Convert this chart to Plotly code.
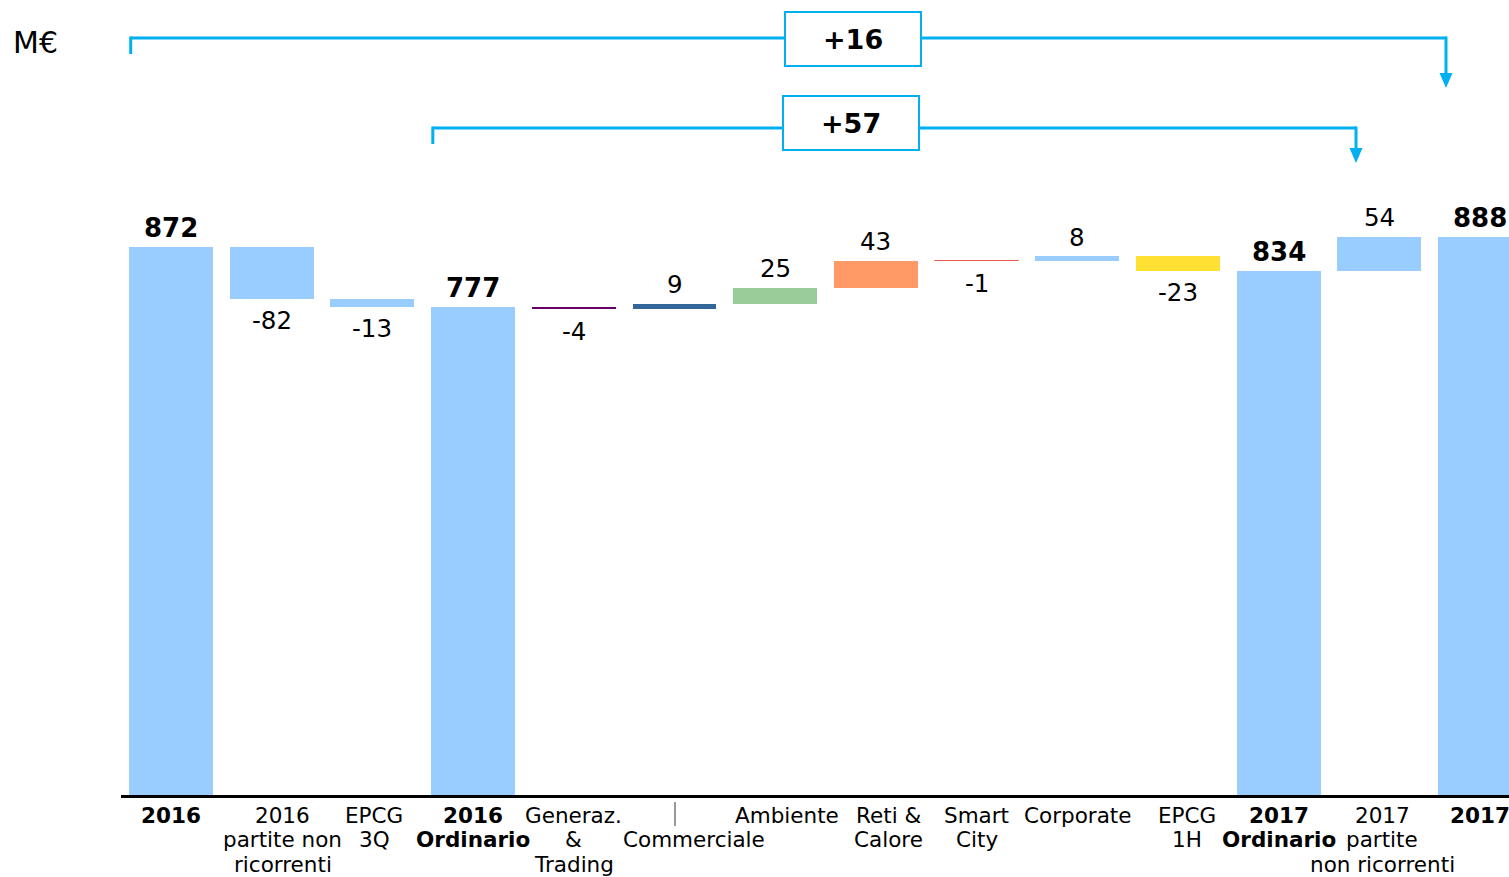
import plotly.graph_objects as go

# ---------------- data ----------------
categories = [
    "2016", "2016\npartite non\nricorrenti", "EPCG\n3Q", "2016\nOrdinario",
    "Generaz.\n&\nTrading", "\nCommerciale", "Ambiente", "Reti &\nCalore",
    "Smart\nCity", "Corporate", "EPCG\n1H", "2017\nOrdinario",
    "2017\npartite\nnon ricorrenti", "2017",
]
values = [872, -82, -13, 777, -4, 9, 25, 43, -1, 8, -23, 834, 54, 888]
is_total = [True, False, False, True, False, False, False, False,
            False, False, False, True, False, True]
bar_colors = ["#99CCFF", "#99CCFF", "#99CCFF", "#99CCFF", "#660066", "#336699",
              "#99CC99", "#FF9966", "#E65A50", "#99CCFF", "#FFE033", "#99CCFF",
              "#99CCFF", "#99CCFF"]
label_xshift = [0, 11, 2, 0, 0, 19, 12, 13, 0, 0, 9, 0, 3, 0]
unit_label = "M€"

# ---------------- geometry helpers ----------------
W, H = 1509, 877
PLOT_BOTTOM = 795
PX_PER_UNIT = 0.6284
X0, SLOT = 171, 100.7
L_MARGIN = 121


def px2x(px):
    return (px - X0) / SLOT


def py2y(py):
    return (PLOT_BOTTOM - py) / PX_PER_UNIT


FONT = "Verdana, DejaVu Sans, sans-serif"
BLUE = "#00B0F0"

# waterfall bases
bases, heights = [], []
running = 0
for v, t in zip(values, is_total):
    if t:
        bases.append(0)
        heights.append(v)
        running = v
    else:
        bases.append(running)
        heights.append(v)
        running += v

xs = list(range(len(values)))
fig = go.Figure()
fig.add_trace(go.Bar(
    x=xs, y=heights, base=bases, width=0.834,
    marker=dict(color=bar_colors, line=dict(color=bar_colors,
                width=[1 if abs(v) < 2 else 0 for v in values])),
    hoverinfo="skip", showlegend=False,
))

annotations = []
# value labels
for i, (v, b, t) in enumerate(zip(values, bases, is_total)):
    if t or v >= 0:
        top = b + v
        annotations.append(dict(x=i, y=top, yshift=19, text=str(v), showarrow=False,
                                yanchor="middle", xanchor="center",
                                font=dict(family=FONT, size=26 if t else 24.5, color="#000000",
                                          weight="bold" if t else "normal")))
    else:
        bottom = b + v
        annotations.append(dict(x=i, y=bottom, yshift=-22, text=str(v), showarrow=False,
                                yanchor="middle", xanchor="center",
                                font=dict(family=FONT, size=24.5, color="#000000")))

# category labels (one annotation per line)
for i, (c, t) in enumerate(zip(categories, is_total)):
    for k, line in enumerate(c.split("\n")):
        if not line:
            continue
        annotations.append(dict(x=i, y=0, xshift=label_xshift[i], yshift=-(20 + 24.5 * k),
                                text=line, showarrow=False, yanchor="middle", xanchor="center",
                                font=dict(family=FONT, size=21.5, color="#000000",
                                          weight="bold" if t else "normal")))

annotations.append(dict(xref="paper", yref="paper", x=(11 - L_MARGIN) / (W - L_MARGIN),
                        y=(PLOT_BOTTOM - 43) / PLOT_BOTTOM, text=unit_label, showarrow=False,
                        xanchor="left", yanchor="middle",
                        font=dict(family=FONT, size=30, color="#000000")))

shapes = []
# brackets: (start bar index, end bar index, line px y, arrow px x, box px x0, box px y0, tip px y)
brackets = [
    (0, 13, 38, 1446, 785, 12, 88),
    (3, 11, 128, 1356, 783, 96, 163),
]
for s, e, ly, ax, bx0, by0, tip in brackets:
    xl = s - 0.4
    xr = px2x(ax)
    shapes.append(dict(type="line", x0=xl, x1=xr, y0=py2y(ly), y1=py2y(ly),
                       line=dict(color=BLUE, width=3), layer="above"))
    shapes.append(dict(type="line", x0=xl, x1=xl, y0=py2y(ly - 1.5), y1=py2y(ly + 16),
                       line=dict(color=BLUE, width=3), layer="above"))
    shapes.append(dict(type="line", x0=xr, x1=xr, y0=py2y(ly - 1.5), y1=py2y(tip - 14),
                       line=dict(color=BLUE, width=3), layer="above"))
    path = (f"M {px2x(ax - 6.5)},{py2y(tip - 15)} L {px2x(ax + 6.5)},{py2y(tip - 15)} "
            f"L {xr},{py2y(tip)} Z")
    shapes.append(dict(type="path", path=path, fillcolor=BLUE, line=dict(color=BLUE, width=0),
                       layer="above"))
    shapes.append(dict(type="rect", x0=px2x(bx0), x1=px2x(bx0 + 136), y0=py2y(by0 + 54),
                       y1=py2y(by0), fillcolor="white", line=dict(color=BLUE, width=2),
                       layer="above"))
    diff = values[e] - values[s]
    annotations.append(dict(x=px2x(bx0 + 68), y=py2y(by0 + 27), text=f"{diff:+d}",
                            showarrow=False, xanchor="center", yanchor="middle",
                            font=dict(family=FONT, size=27, color="#000000", weight="bold")))

# small separator mark in the label area
shapes.append(dict(type="line", xref="x", yref="paper", x0=px2x(675), x1=px2x(675),
                   y0=-7 / PLOT_BOTTOM, y1=-31 / PLOT_BOTTOM, line=dict(color="#333333", width=1)))

fig.update_layout(
    width=W, height=H,
    margin=dict(l=L_MARGIN, r=0, t=0, b=H - PLOT_BOTTOM, pad=0),
    paper_bgcolor="white", plot_bgcolor="white",
    xaxis=dict(range=[px2x(L_MARGIN), px2x(W)], showgrid=False, zeroline=False,
               showticklabels=False, ticks="", showline=True, linecolor="#000000",
               linewidth=3, fixedrange=True),
    yaxis=dict(range=[0, py2y(0)], showgrid=False, zeroline=False, showticklabels=False,
               ticks="", showline=False, fixedrange=True),
    annotations=annotations, shapes=shapes, bargap=0,
    font=dict(family=FONT),
)

fig.write_html(
    "out.html",
    config={"displayModeBar": False},
    post_script="document.body.style.margin='0';document.body.style.padding='0';"
                "document.body.style.overflow='hidden';",
)
